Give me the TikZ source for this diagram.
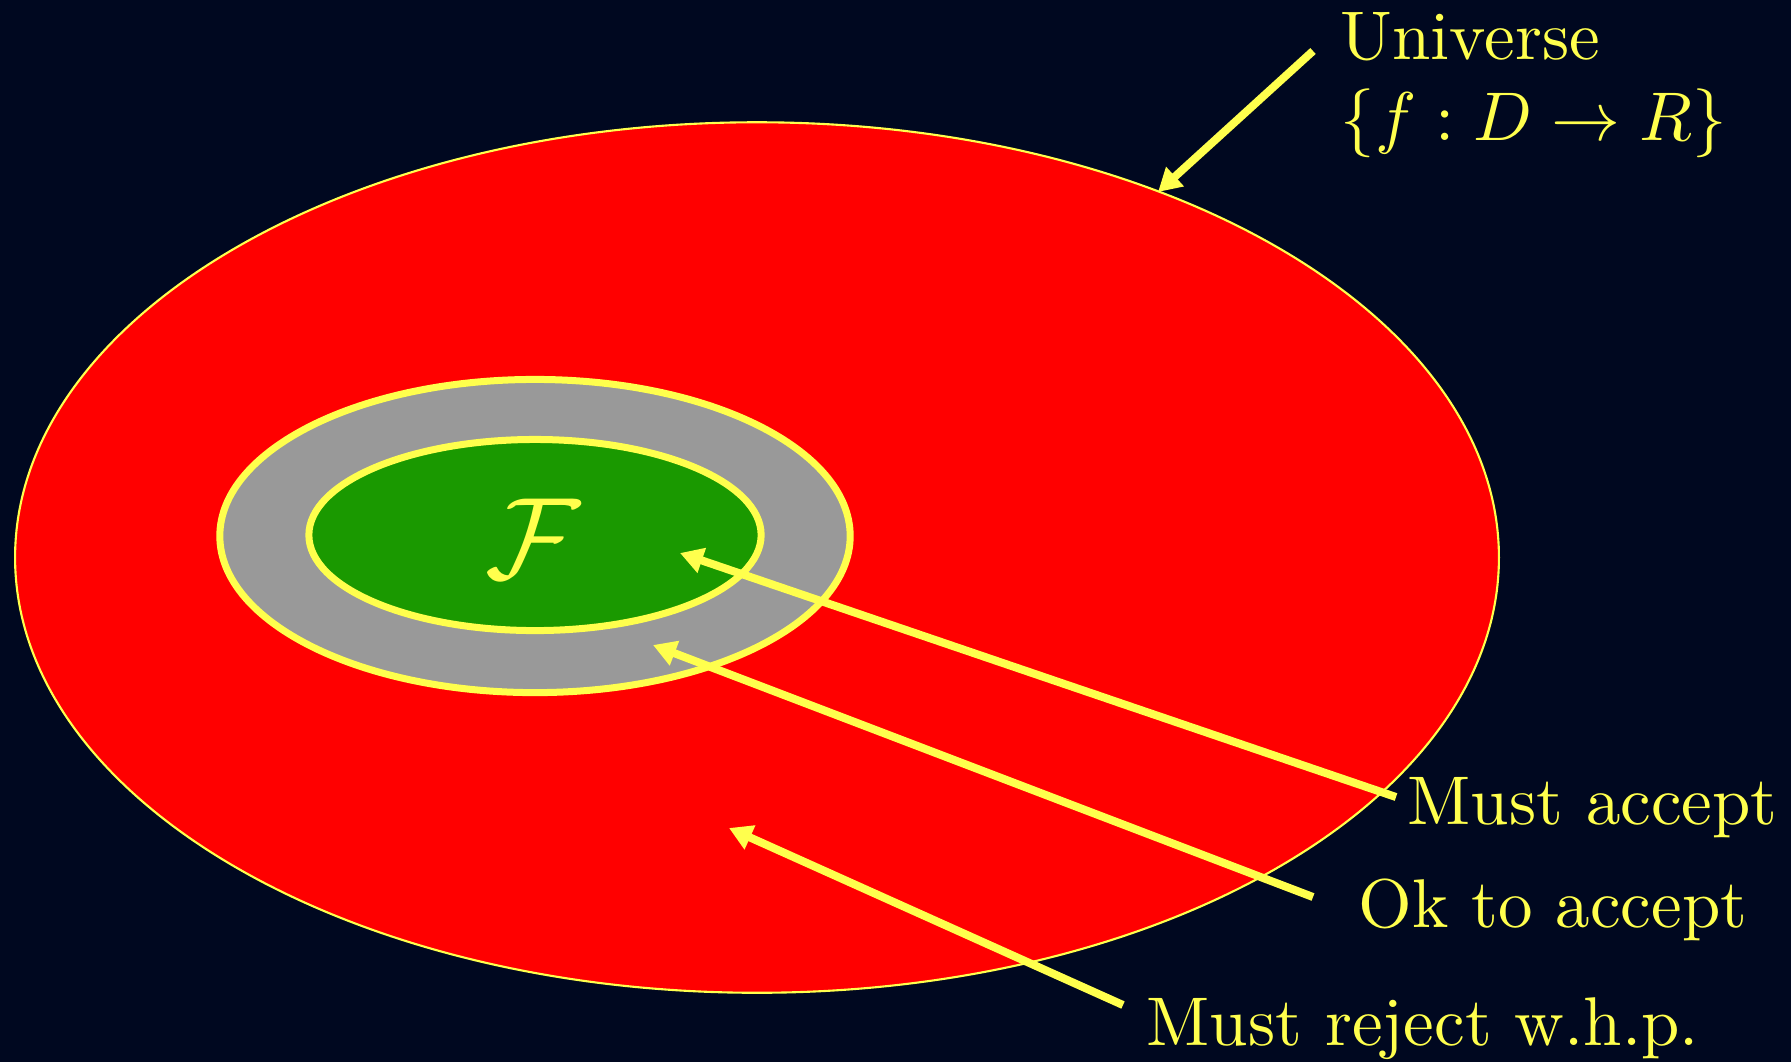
\documentclass[tikz,border=0pt]{standalone}
\usepackage{fontspec}
\usepackage{graphicx}
\usetikzlibrary{arrows.meta,shapes.geometric}
\definecolor{bgnavy}{RGB}{0,8,32}
\definecolor{yel}{RGB}{255,255,77}
\definecolor{grn}{RGB}{26,153,0}
\definecolor{gry}{RGB}{153,153,153}
\newcommand{\bigtxt}[1]{\scalebox{1.96}{#1}}
\begin{document}
\begin{tikzpicture}[x=0.01cm,y=-0.01cm,
  lbl/.style={text=yel, font=\fontsize{10}{12}\selectfont, inner sep=0, anchor=base west},
  arr/.style={draw=yel, line width=0.08cm, -{Triangle[length=0.23cm,width=0.25cm]}},
  ring/.style={ellipse, draw=yel, line width=0.07cm, inner sep=0}]
\fill[bgnavy] (0,0) rectangle (1791,1062);
\useasboundingbox (0,0) rectangle (1791,1062);
% sets
\node[ellipse, draw=yel, line width=0.6pt, fill=red, inner sep=0,
      minimum width=14.83cm, minimum height=8.70cm] (univ) at (757,557.5) {};
\node[ring, fill=gry, minimum width=6.30cm, minimum height=3.13cm] (okset) at (535,536) {};
\node[ring, fill=grn, minimum width=4.52cm, minimum height=1.91cm] (fam) at (535,535) {};
\node[text=yel, font=\fontsize{10}{12}\selectfont, inner sep=0] (F) at (533,539) {\scalebox{3.3}{$\mathcal{F}$}};
% labels
\node[lbl] (tuniv) at (1340,59) {\bigtxt{Universe}};
\node[lbl] (tset) at (1340,140) {\bigtxt{$\{f:D\to R\}$}};
\node[lbl] (tmust) at (1407,824) {\bigtxt{Must accept}};
\node[lbl] (tokay) at (1358,927) {\bigtxt{Ok to accept}};
\node[lbl] (trej) at (1146,1045) {\bigtxt{Must reject w.h.p.}};
% arrow heads
\coordinate (hU) at (1158,192);
\coordinate (hA) at (680,553);
\coordinate (hB) at (653,645);
\coordinate (hC) at (729,828);
\draw[arr] ([shift={(-27,-8)}]tuniv.base west) -- (hU);
\draw[arr] ([shift={(-11,-27)}]tmust.base west) -- (hA);
\draw[arr] ([shift={(-45,-30)}]tokay.base west) -- (hB);
\draw[arr] ([shift={(-23,-40)}]trej.base west) -- (hC);
\end{tikzpicture}
\end{document}
